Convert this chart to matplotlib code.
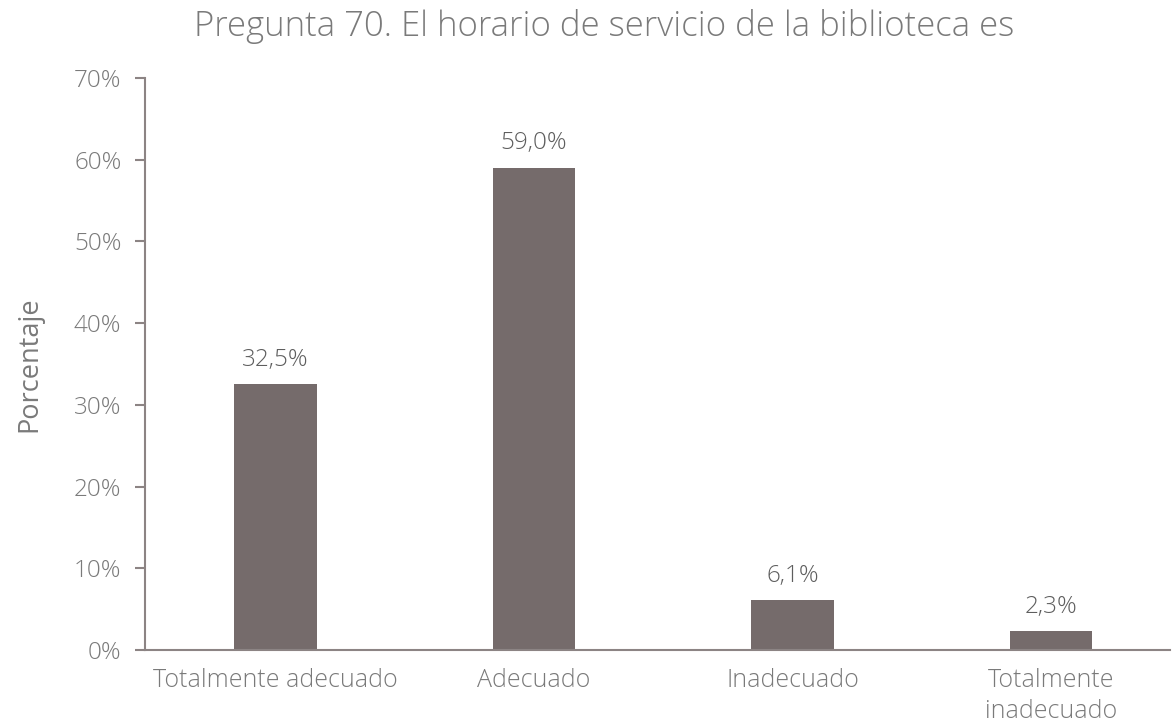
import matplotlib
matplotlib.use("Agg")
import matplotlib.pyplot as plt
from matplotlib.ticker import FuncFormatter

categories = ["Totalmente adecuado", "Adecuado", "Inadecuado", "Totalmente\ninadecuado"]
values = [32.5, 59.0, 6.1, 2.3]
value_labels = ["32,5%", "59,0%", "6,1%", "2,3%"]
yticks = [0, 10, 20, 30, 40, 50, 60, 70]

bar_color = "#756b6b"
text_color = "#7a7a7a"
axis_color = "#8c8484"

plt.rcParams["font.family"] = ["Open Sans", "DejaVu Sans"]
plt.rcParams["font.weight"] = "light"

fig = plt.figure(figsize=(11.73, 7.23), dpi=100)
ax = fig.add_axes([145 / 1173, 1 - 650 / 723, (1170 - 145) / 1173, (650 - 78) / 723])

x = list(range(len(categories)))
ax.bar(x, values, width=0.32, color=bar_color, zorder=2)

for xi, v, lab in zip(x, values, value_labels):
    ax.annotate(lab, (xi, v), xytext=(0, 9), textcoords="offset points",
                ha="center", va="bottom", fontsize=17.5, color="#5e5e5e",
                fontweight="light")

ax.set_ylim(0, 70)
ax.set_xlim(-0.505, 3.46)
ax.set_yticks(yticks)
ax.yaxis.set_major_formatter(FuncFormatter(lambda v, p: f"{int(v)}%"))
ax.set_xticks(x)
ax.set_xticklabels(categories, linespacing=1.3)

ax.tick_params(axis="y", length=7, width=1.5, color=axis_color, labelcolor=text_color,
               labelsize=17.5, pad=10)
ax.tick_params(axis="x", length=0, labelcolor=text_color, labelsize=18, pad=13)

for side in ["top", "right"]:
    ax.spines[side].set_visible(False)
for side in ["left", "bottom"]:
    ax.spines[side].set_color(axis_color)
    ax.spines[side].set_linewidth(1.5)

ax.set_ylabel("Porcentaje", fontsize=19.5, color=text_color, labelpad=22)
fig.text(0.5 * (190 + 1018) / 1173, 1 - 27 / 723, "Pregunta 70. El horario de servicio de la biblioteca es",
         ha="center", va="center", fontsize=25, color=text_color)

fig.savefig("out.png", dpi=100, facecolor="white")
